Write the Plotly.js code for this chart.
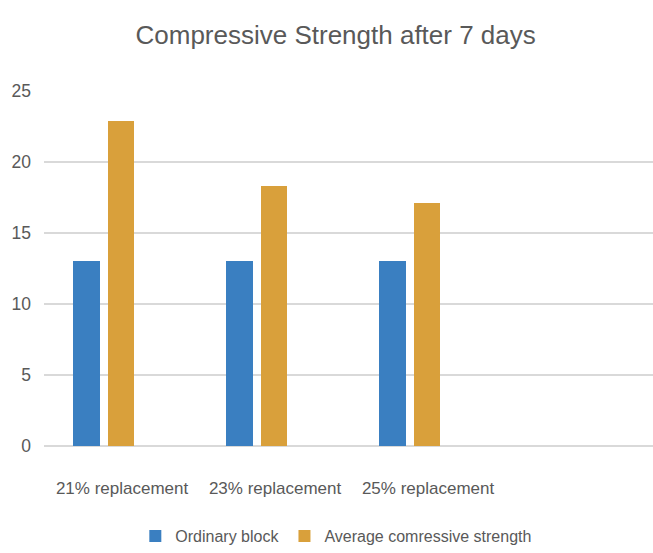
<!DOCTYPE html>
<html>
<head>
<meta charset="utf-8">
<script src="https://cdn.plot.ly/plotly-3.0.1.min.js"></script>
<style>
  html, body { margin: 0; padding: 0; background: #ffffff; }
  #chart { width: 653px; height: 553px; }
</style>
</head>
<body>
<div id="chart"></div>
<script>
const categories = ["21% replacement", "23% replacement", "25% replacement"];
const seriesNames = ["Ordinary block", "Average comressive strength"];
const ordinaryBlock = [13, 13, 13];
const averageStrength = [22.9, 18.3, 17.1];
const yTicks = [0, 5, 10, 15, 20, 25];

const FONT = "'Liberation Sans', Arial, sans-serif";
const TXT = "#595959";

const traces = [
  {
    type: "bar",
    name: seriesNames[0],
    x: categories,
    y: ordinaryBlock,
    marker: { color: "#3a7fc1" },
    offset: -0.322,
    width: 0.178,
    hoverinfo: "x+y+name"
  },
  {
    type: "bar",
    name: seriesNames[1],
    x: categories,
    y: averageStrength,
    marker: { color: "#d9a03b" },
    offset: -0.092,
    width: 0.172,
    hoverinfo: "x+y+name"
  }
];

const layout = {
  width: 653,
  height: 553,
  margin: { l: 44, r: 0, t: 91, b: 105, pad: 0 },
  paper_bgcolor: "#ffffff",
  plot_bgcolor: "#ffffff",
  font: { family: FONT, color: TXT, size: 17 },
  title: {
    text: "Compressive Strength after 7 days",
    font: { family: FONT, size: 26, color: TXT },
    x: 0.514,
    xref: "container",
    xanchor: "center",
    y: 0.9367,
    yref: "container",
    yanchor: "middle"
  },
  barmode: "overlay",
  xaxis: {
    type: "category",
    categoryorder: "array",
    categoryarray: categories,
    range: [-0.51, 3.47],
    showgrid: false,
    showline: false,
    zeroline: false,
    ticks: "",
    tickangle: 0,
    ticklabelstandoff: 30,
    tickfont: { family: FONT, size: 17, color: TXT },
    fixedrange: true
  },
  yaxis: {
    range: [0, 25],
    tickvals: yTicks,
    ticktext: yTicks.map(String),
    showgrid: true,
    gridcolor: "#d9d9d9",
    gridwidth: 1.3,
    zeroline: true,
    zerolinecolor: "#d9d9d9",
    zerolinewidth: 1.3,
    showline: false,
    ticks: "",
    ticklabelstandoff: 12,
    tickfont: { family: FONT, size: 17.5, color: TXT },
    fixedrange: true
  },
  showlegend: true,
  legend: {
    orientation: "h",
    x: 0.48,
    xanchor: "center",
    y: -0.255,
    yanchor: "middle",
    font: { family: FONT, size: 16, color: TXT },
    bgcolor: "rgba(0,0,0,0)",
    traceorder: "normal"
  },
  bargap: 0
};

Plotly.newPlot("chart", traces, layout, { displayModeBar: false, staticPlot: true });
</script>
</body>
</html>
